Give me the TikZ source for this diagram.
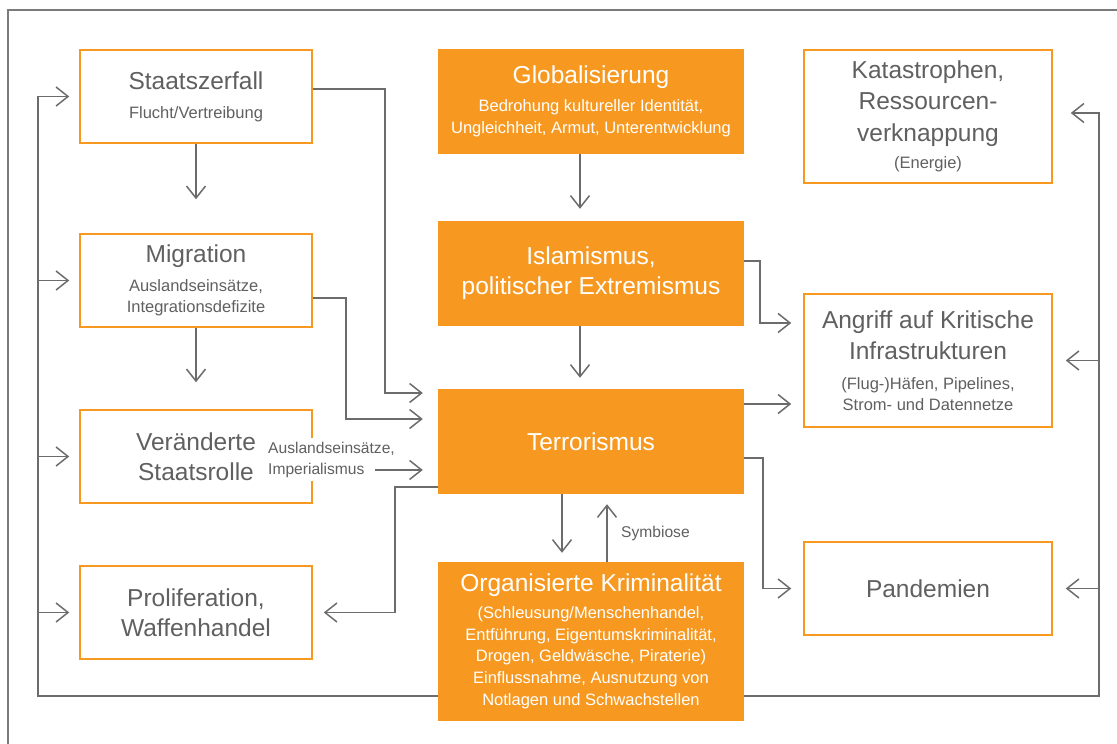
\documentclass[tikz,border=0pt]{standalone}
\usepackage{fontspec}
\setmainfont{Liberation Sans}
\usetikzlibrary{positioning, arrows.meta, calc}
\usepackage{xcolor}
\definecolor{orng}{RGB}{247,153,33}
\definecolor{txtgray}{RGB}{96,96,96}
\definecolor{lngray}{RGB}{108,108,108}
\newcommand{\subfont}{\fontsize{16.5}{21.5}\selectfont}
\newcommand{\ttlfont}{\fontsize{24.5}{30}\selectfont}
\newcommand{\ttl}[1]{{\ttlfont #1}}
\lineskiplimit=-100pt

\begin{document}
\begin{tikzpicture}[x=1pt, y=-1pt,
  obox/.style={draw=orng, line width=1.5pt, fill=white, text=txtgray, align=center, inner sep=0pt, font=\subfont},
  fbox/.style={fill=orng, text=white, align=center, inner sep=0pt, font=\subfont},
  arr/.style={draw=lngray, line width=1.5pt, -{Straight Barb[length=12pt,width=19pt]}, shorten >=11pt},
  lbl/.style={text=txtgray, font=\fontsize{15.6}{20}\selectfont, inner xsep=2pt, inner ysep=4pt}
]
\useasboundingbox (0,0) rectangle (1117,744);
\clip (0,0) rectangle (1117,744);
\draw[draw=lngray!90, line width=2pt] (8,10) rectangle (1140,770);

% left column
\node[obox, minimum width=232, minimum height=93] (stz) at (196,96.5) {\ttl{Staatszerfall}\\[7.5pt]Flucht/Vertreibung};
\node[obox, minimum width=232, minimum height=93] (mig) at (196,280.5) {\ttl{Migration}\\[7.5pt]Auslandseinsätze,\\Integrationsdefizite};
\node[obox, minimum width=232, minimum height=93, font=\ttlfont] (vst) at (196,456.5) {Veränderte\\Staatsrolle};
\node[obox, minimum width=232, minimum height=93, font=\ttlfont] (pro) at (196,612.5) {Proliferation,\\Waffenhandel};

% middle column
\node[fbox, minimum width=306, minimum height=105] (glo) at (591,101.5) {\ttl{Globalisierung}\\[6.5pt]Bedrohung kultureller Identität,\\Ungleichheit, Armut, Unterentwicklung};
\node[fbox, minimum width=306, minimum height=105, font=\ttlfont] (isl) at (591,273.5) {Islamismus,\\politischer Extremismus};
\node[fbox, minimum width=306, minimum height=105, font=\ttlfont] (ter) at (591,441.5) {Terrorismus};
\node[fbox, minimum width=306, minimum height=159, font=\fontsize{16.5}{21.8}\selectfont] (okr) at (591,641.5) {\ttl{Organisierte Kriminalität}\\[4.5pt](Schleusung/Menschenhandel,\\Entführung, Eigentumskriminalität,\\Drogen, Geldwäsche, Piraterie)\\Einflussnahme, Ausnutzung von\\Notlagen und Schwachstellen};

% right column
\node[obox, minimum width=248, minimum height=133] (kat) at (928,116.5) {\ttl{Katastrophen,}\\[9.5pt]\ttl{Ressourcen-}\\[10.5pt]\ttl{verknappung}\\[5.5pt](Energie)};
\node[obox, minimum width=248, minimum height=133] (ang) at (928,360.5) {\ttl{Angriff auf Kritische}\\[9.5pt]\ttl{Infrastrukturen}\\[8.5pt](Flug-)Häfen, Pipelines,\\Strom- und Datennetze};
\node[obox, minimum width=248, minimum height=93, font=\ttlfont] (pan) at (928,588.5) {Pandemien};

% labels
\node[lbl, fill=white, anchor=base west] (ausl) at (266,453) {Auslandseinsätze,};
\node[lbl, fill=white, anchor=base west] (imp) at (266,474) {Imperialismus};
\node[lbl, anchor=west] (sym) at (619,533) {Symbiose};

\coordinate (lbus) at (38,0);
\coordinate (rbus) at (1099,0);
\coordinate (katin) at ([yshift=3.5pt]kat.east);

% vertical links
\draw[arr, shorten >=34pt] (stz) -- (mig);
\draw[arr, shorten >=27pt] (mig) -- (vst);
\draw[arr, shorten >=12pt] ([xshift=-11pt]glo.south) -- ([xshift=-11pt]isl.north);
\draw[arr, shorten >=11pt] ([xshift=-11pt]isl.south) -- ([xshift=-11pt]ter.north);
\draw[arr, shorten >=9pt] ([xshift=-29pt]ter.south) -- ([xshift=-29pt]okr.north);
\draw[arr, shorten >=10pt] ([xshift=16pt]okr.north) -- ([xshift=16pt]ter.south);

% into Terrorismus
\draw[arr, shorten >=15pt] ([yshift=7.5pt]stz.east) -- ++(72,0) |- ([yshift=48.5pt]ter.west);
\draw[arr, shorten >=15pt] ([yshift=-17.5pt]mig.east) -- ++(33,0) |- ([yshift=22.5pt]ter.west);
\draw[arr, shorten <=8pt, shorten >=15pt] (imp.east) -- (imp.east -| ter.west);

% out of Terrorismus
\draw[arr] ([yshift=-45.5pt]ter.west) -- ++(-43,0) |- (pro.east);
\draw[arr, shorten >=12pt] ([yshift=12.5pt]isl.east) -- ++(16,0) |- ([yshift=37.5pt]ang.west);
\draw[arr, shorten >=12pt] ([yshift=37.5pt]ter.east) -- ([yshift=37.5pt]ter.east -| ang.west);
\draw[arr, shorten >=12pt] ([yshift=-16.5pt]ter.east) -- ++(19,0) |- (pan.west);

% feedback loops
\draw[arr, shorten >=10pt] ([yshift=-54.5pt]okr.west) -| (lbus |- stz.west) -- (stz.west);
\draw[arr, shorten >=10pt] (lbus |- mig.west) -- (mig.west);
\draw[arr, shorten >=10pt] (lbus |- vst.west) -- (vst.west);
\draw[arr, shorten >=10pt] (lbus |- pro.west) -- (pro.west);
\draw[arr, shorten >=18pt] ([yshift=-54.5pt]okr.east) -| (rbus |- katin) -- (katin);
\draw[arr, shorten >=13pt] (rbus |- ang.east) -- (ang.east);
\draw[arr, shorten >=13pt] (rbus |- pan.east) -- (pan.east);
\end{tikzpicture}
\end{document}
